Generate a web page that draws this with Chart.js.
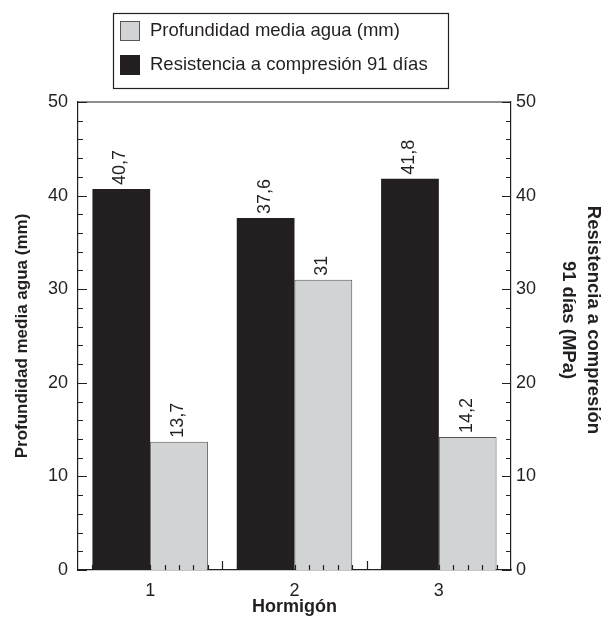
<!DOCTYPE html>
<html>
<head>
<meta charset="utf-8">
<script src="https://cdn.jsdelivr.net/npm/chart.js@4.4.0/dist/chart.umd.min.js"></script>
<style>
  html, body { margin: 0; padding: 0; background: #fff; }
  #wrap { width: 605px; height: 619px; }
</style>
</head>
<body>
<div id="wrap"><canvas id="myChart" width="605" height="619"></canvas></div>
<script>
// data
const hormigones = ["1", "2", "3"];
const resistencia = [40.7, 37.6, 41.8];
const profundidad = [13.7, 31, 14.2];
const seriesNames = ["Resistencia a compresión 91 días", "Profundidad media agua (mm)"];
const rightTitle = ["Resistencia a compresión", "91 días (MPa)"];
const yTicks = [0, 10, 20, 30, 40, 50];

const INK = "#231f20";
const GRIS = "#d1d3d4";
const FONT = "'Liberation Sans', Arial, Helvetica, sans-serif";

// little inward ticks, top frame line
const ticksPlugin = {
	id: "ticksPlugin",
	afterDatasetsDraw(chart) {
		const { ctx, chartArea: a, scales } = chart;
		ctx.save();
		ctx.strokeStyle = INK;
		ctx.lineWidth = 1.2;
		ctx.beginPath();
		ctx.moveTo(a.left, a.top);
		ctx.lineTo(a.right, a.top);
		for (let v = yTicks[0]; v <= yTicks[yTicks.length - 1]; v += 2) {
			const y = Math.round(scales.y.getPixelForValue(v)) + 0.5;
			const len = v % 10 === 0 ? 9 : 5;
			ctx.moveTo(a.left, y);
			ctx.lineTo(a.left + len, y);
			ctx.moveTo(a.right, y);
			ctx.lineTo(a.right - len, y);
		}
		const x = scales.x;
		const step = (x.getPixelForValue(1) - x.getPixelForValue(0)) / 10;
		const start = x.getPixelForValue(0) - step * 5;
		for (let k = 1; k < hormigones.length * 10; k++) {
			const px = Math.round(start + k * step) + 0.5;
			const len = k % 10 === 0 ? 9 : 5;
			ctx.moveTo(px, a.bottom);
			ctx.lineTo(px, a.bottom - len);
		}
		ctx.stroke();
		ctx.restore();
	}
};

// values written over the bars, turned 90 degrees
const valueLabels = {
	id: "valueLabels",
	afterDatasetsDraw(chart) {
		const { ctx } = chart;
		ctx.save();
		ctx.fillStyle = INK;
		ctx.font = "18px " + FONT;
		ctx.textAlign = "left";
		ctx.textBaseline = "middle";
		chart.data.datasets.forEach((ds, i) => {
			chart.getDatasetMeta(i).data.forEach((bar, j) => {
				ctx.save();
				ctx.translate(bar.x - 1, bar.y - 4);
				ctx.rotate(-Math.PI / 2);
				ctx.fillText(String(ds.data[j]).replace(".", ","), 0, 0);
				ctx.restore();
			});
		});
		ctx.restore();
	}
};

// boxed legend (gray series first) and the two-line right title
const boxLegend = {
	id: "boxLegend",
	afterDraw(chart) {
		const { ctx } = chart;
		const items = chart.data.datasets.slice().reverse();
		ctx.save();
		ctx.strokeStyle = INK;
		ctx.lineWidth = 1.2;
		ctx.strokeRect(113.5, 13.5, 335, 75);
		ctx.font = "18.5px " + FONT;
		ctx.textBaseline = "middle";
		items.forEach((ds, i) => {
			const y = 21 + i * 34;
			ctx.fillStyle = ds.backgroundColor;
			ctx.fillRect(120, y, 20, 20);
			ctx.strokeStyle = ds.borderColor;
			ctx.lineWidth = 1;
			ctx.strokeRect(120.5, y + 0.5, 19, 19);
			ctx.fillStyle = INK;
			ctx.fillText(ds.label, 150, y + 10);
		});

		ctx.font = "bold 18.5px " + FONT;
		ctx.textAlign = "center";
		rightTitle.forEach((line, i) => {
			ctx.save();
			ctx.translate(593 - i * 25, 320);
			ctx.rotate(Math.PI / 2);
			ctx.fillText(line, 0, 0);
			ctx.restore();
		});
		ctx.restore();
	}
};

new Chart(document.getElementById("myChart"), {
	type: "bar",
	data: {
		labels: hormigones,
		datasets: [
			{
				label: seriesNames[0],
				data: resistencia,
				backgroundColor: INK,
				borderColor: INK,
				borderWidth: 0,
				yAxisID: "y2"
			},
			{
				label: seriesNames[1],
				data: profundidad,
				backgroundColor: GRIS,
				borderColor: "#555",
				borderWidth: 1,
				yAxisID: "y"
			}
		]
	},
	options: {
		responsive: false,
		animation: false,
		events: [],
		layout: { padding: { top: 102, left: 0, right: 0, bottom: 0 } },
		datasets: { bar: { categoryPercentage: 0.8, barPercentage: 1.0 } },
		plugins: { legend: { display: false }, tooltip: { enabled: false } },
		scales: {
			x: {
				grid: { display: false, drawTicks: false },
				border: { display: true, color: INK, width: 1.2 },
				ticks: { color: INK, font: { family: FONT, size: 18 }, padding: 10 },
				title: { display: true, text: "Hormigón", color: INK, font: { family: FONT, size: 18, weight: "bold" }, padding: { top: 0, bottom: 1 } },
				afterFit(s) { s.height = 49; }
			},
			y: {
				position: "left",
				min: 0, max: 50,
				ticks: { stepSize: 10, color: INK, font: { family: FONT, size: 18 }, padding: 10 },
				grid: { display: false, drawTicks: false },
				border: { display: true, color: INK, width: 1.2 },
				title: { display: true, text: "Profundidad media agua (mm)", color: INK, font: { family: FONT, size: 17, weight: "bold" }, padding: { top: 12, bottom: 0 } },
				afterFit(s) { s.width = 78; }
			},
			y2: {
				position: "right",
				min: 0, max: 50,
				ticks: { stepSize: 10, color: INK, font: { family: FONT, size: 18 }, padding: 5 },
				grid: { display: false, drawTicks: false },
				border: { display: true, color: INK, width: 1.2 },
				title: { display: false },
				afterFit(s) { s.width = 94; }
			}
		}
	},
	plugins: [ticksPlugin, valueLabels, boxLegend]
});
</script>
</body>
</html>
